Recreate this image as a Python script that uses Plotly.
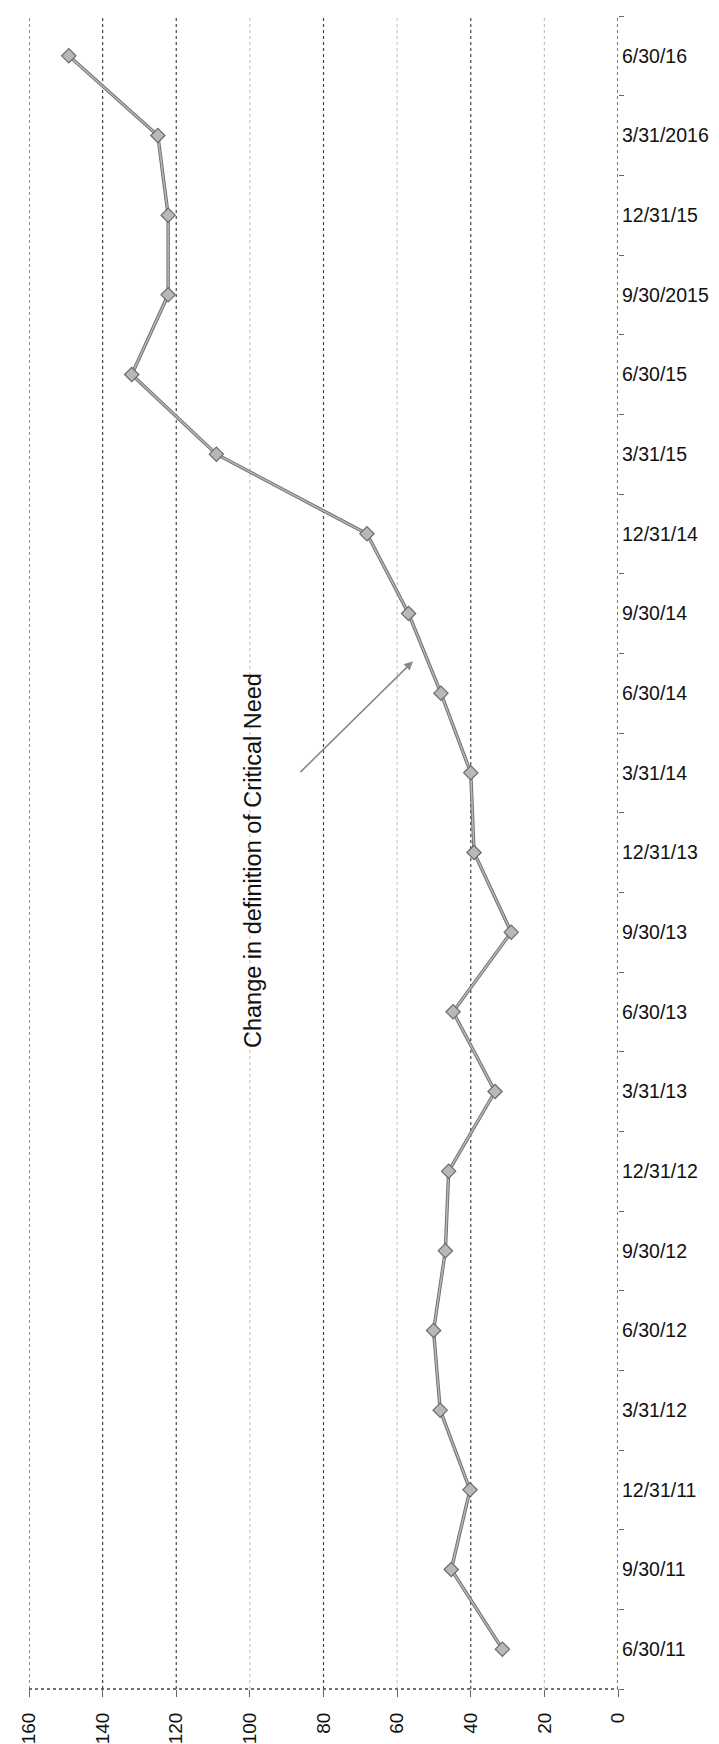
import plotly.graph_objects as go

# ---- data (bottom to top) ----
quarters = ["6/30/11", "9/30/11", "12/31/11", "3/31/12", "6/30/12", "9/30/12",
            "12/31/12", "3/31/13", "6/30/13", "9/30/13", "12/31/13", "3/31/14",
            "6/30/14", "9/30/14", "12/31/14", "3/31/15", "6/30/15", "9/30/2015",
            "12/31/15", "3/31/2016", "6/30/16"]
values = [31.4, 45.3, 40.2, 48.3, 50.1, 46.9, 46.0, 33.4, 44.8, 29.0, 39.1, 40.0,
          48.1, 56.9, 68.2, 109.1, 132.1, 122.2, 122.2, 125.0, 149.2]
value_ticks = [0, 20, 40, 60, 80, 100, 120, 140, 160]
annotation_text = "Change in definition of Critical Need"

# grid styling (scan shows alternating darkness)
grid_vals = [20, 40, 60, 80, 100, 120, 140, 160]
grid_cols = ["#c4c4c4", "#444444", "#c4c4c4", "#444444", "#c4c4c4", "#444444", "#444444", "#444444"]

fig = go.Figure()

# darker under-stroke and lighter core to mimic the scanned double line
fig.add_trace(go.Scatter(
    x=values, y=quarters, mode="lines",
    line=dict(color="#707070", width=3.4),
    hoverinfo="skip", showlegend=False))
fig.add_trace(go.Scatter(
    x=values, y=quarters, mode="lines+markers",
    line=dict(color="#b8b8b8", width=1.5),
    marker=dict(symbol="diamond", size=11, color="#b8b8b8",
                line=dict(color="#6a6a6a", width=1.2)),
    showlegend=False))

shapes = []
for v, c in zip(grid_vals, grid_cols):
    shapes.append(dict(type="line", xref="x", yref="paper", x0=v, x1=v, y0=0, y1=1,
                       line=dict(color=c, width=1.2, dash="dot"), layer="below"))
# dotted axis lines
shapes.append(dict(type="line", xref="x", yref="paper", x0=0, x1=0, y0=0, y1=1,
                   line=dict(color="#333333", width=1.3, dash="dot"), layer="below"))
shapes.append(dict(type="line", xref="x", yref="paper", x0=160, x1=0, y0=0, y1=0,
                   line=dict(color="#444444", width=1.3, dash="dot"), layer="below"))

fig.update_layout(
    width=719, height=1744,
    margin=dict(l=21, r=109, t=8, b=59),
    paper_bgcolor="white", plot_bgcolor="white",
    shapes=shapes,
    xaxis=dict(range=[160, 0], tickvals=value_ticks, tickangle=-90,
               showgrid=False, zeroline=False, showline=False,
               ticks="outside", ticklen=7, tickcolor="#666666",
               ticklabelstandoff=8,
               tickfont=dict(family="Liberation Sans, Arial, sans-serif", size=19, color="#111111")),
    yaxis=dict(type="category", categoryorder="array", categoryarray=quarters,
               range=[-0.5, len(quarters) - 0.5], side="right",
               showgrid=False, zeroline=False, showline=False,
               ticks="outside", tickson="boundaries", ticklen=5, tickcolor="#666666",
               ticklabelstandoff=3,
               tickfont=dict(family="Liberation Sans, Arial, sans-serif", size=19.5, color="#111111")),
)

fig.add_annotation(
    x=55.7, y=12.4, ax=86.7, ay=10.99, xref="x", yref="y", axref="x", ayref="y",
    text="", showarrow=True, arrowhead=2, arrowsize=1.1, arrowwidth=1.6,
    arrowcolor="#8a8a8a")
fig.add_annotation(
    x=99.0, y=9.9, xref="x", yref="y", text=annotation_text, showarrow=False,
    textangle=-90, xanchor="center", yanchor="middle",
    font=dict(family="Liberation Sans, Arial, sans-serif", size=23.5, color="#111111"))

fig.write_html("out.html")
